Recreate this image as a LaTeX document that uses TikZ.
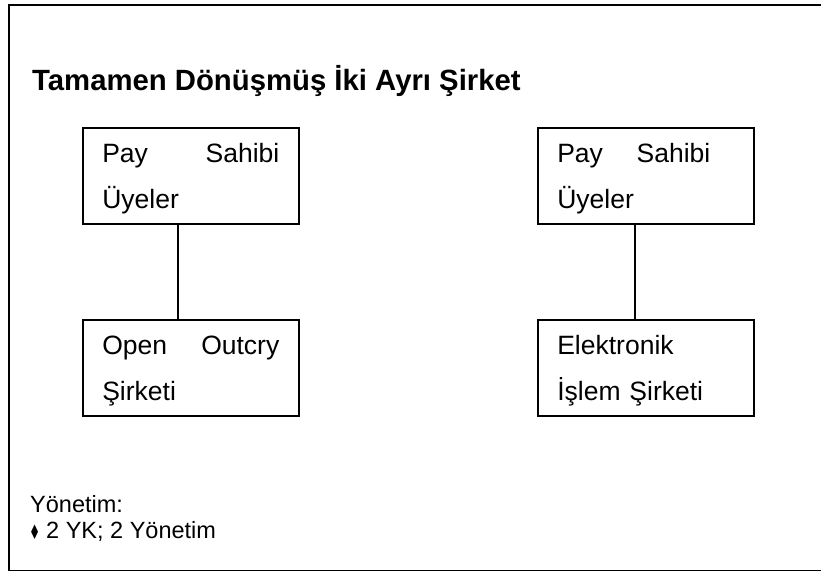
\documentclass[tikz,border=0pt]{standalone}
\usepackage{fontspec}
\setmainfont{Liberation Sans}
\newfontfamily\symfont{DejaVu Sans}
\usepackage{graphicx}
\usetikzlibrary{positioning}

\tikzset{
    unitbox/.style={draw, line width=1.6pt, anchor=north west,
        inner ysep=0pt, inner xsep=19.5pt, text width=177pt, align=left,
        text height=34.7pt, text depth=61.3pt,
        font=\fontsize{26.5}{46}\selectfont},
    link/.style={line width=1.6pt},
    note/.style={anchor=base west, inner sep=0pt, font=\fontsize{23.5}{23.5}\selectfont},
}

\begin{document}
\begin{tikzpicture}[x=1pt, y=-1pt]
            \useasboundingbox (0,0) rectangle (821,572);

            % Draw the outer frame
            \draw[link] (821,5) -- (9,5) -- (9,570.5) -- (821,570.5);

            % Title
            \node[anchor=base west, inner sep=0pt, font=\bfseries\fontsize{29.3}{29.3}\selectfont]
                (title) at (32,90.7) {Tamamen Dönüşmüş İki Ayrı Şirket};

            % Left company
            \node[unitbox] (own1) at (82,127) {Pay\hfill Sahibi\\Üyeler};
            \node[unitbox] (open) at (82,319) {Open\hfill Outcry\\Şirketi};

            % Right company
            \node[unitbox] (own2) at (537,127) {\makebox[153pt][s]{Pay\hfill Sahibi}\\Üyeler};
            \node[unitbox] (elec) at (537,319) {Elektronik\\İşlem Şirketi};

            % Draw the links between the boxes
            \draw[link] ([xshift=-13pt]own1.south) -- ([xshift=-13pt]open.north);
            \draw[link] ([xshift=-11pt]own2.south) -- ([xshift=-11pt]elec.north);

            % Governance note
            \node[note] (gov) at (30,512.7) {Yönetim:};
            \node[inner sep=0pt, font=\symfont\fontsize{20}{20}\selectfont]
                (bul) at (34.8,532.5) {\scalebox{0.62}[1]{♦}};
            \node[note] (item) at (46,538.3) {2 YK; 2 Yönetim};
        \end{tikzpicture}
\end{document}
